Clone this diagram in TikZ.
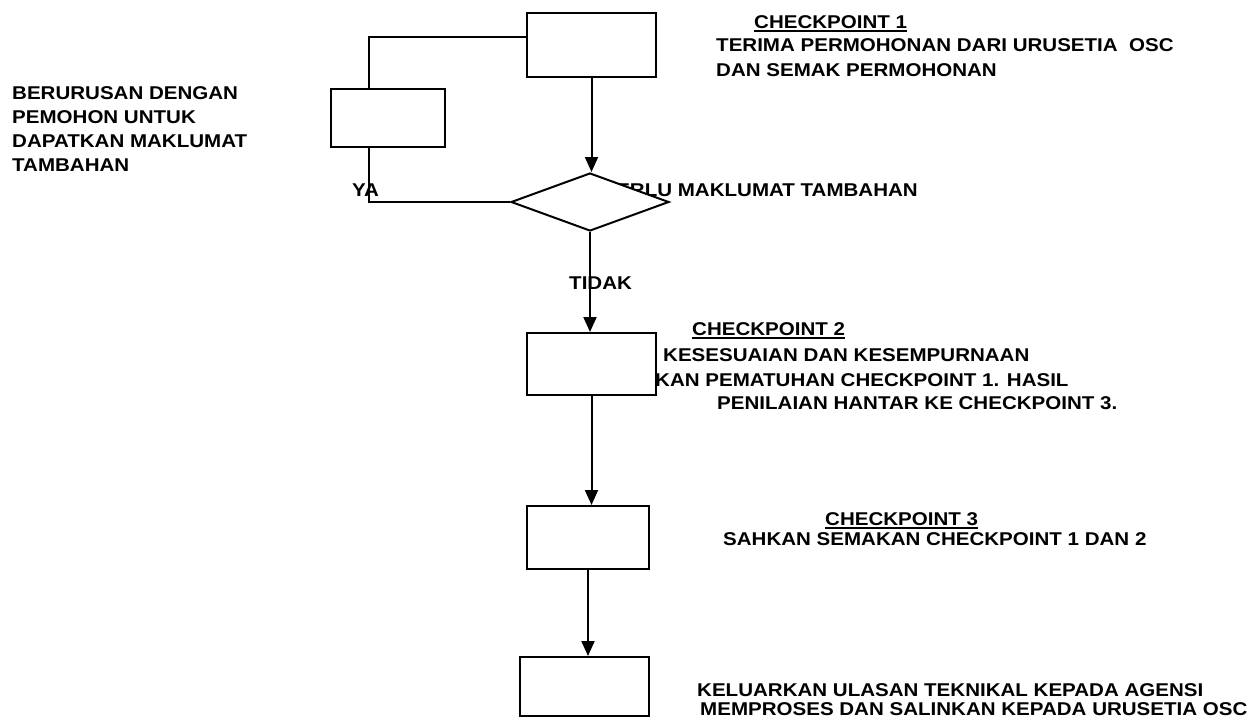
\documentclass[tikz,border=0pt]{standalone}
\usepackage{fontspec}
\usepackage{graphicx}
\setmainfont{Liberation Sans}
\usetikzlibrary{shapes.geometric,arrows.meta}
% heading with a thick rule under it
\newcommand{\ulhead}[1]{\setbox0\hbox{#1}\leavevmode\rlap{\rule[-4pt]{\wd0}{1.8pt}}\box0}
% captions are set slightly wide
\newcommand{\wtext}[1]{\scalebox{1.11}[1]{#1}}

\begin{document}
\begin{tikzpicture}[x=1pt,y=-1pt,
  lbl/.style={anchor=base west, inner sep=0pt, font=\fontsize{18.5}{22}\selectfont\bfseries},
  lblr/.style={lbl, anchor=base east},
  procbox/.style={draw, fill=white, line width=2pt, inner sep=0pt},
  decision/.style={diamond, draw, fill=white, line width=2pt, inner sep=0pt,
    minimum width=158pt, minimum height=58pt},
  link/.style={line width=2pt},
  flow/.style={link, -{Triangle[width=13pt,length=15pt]}}
]
\useasboundingbox (0,0) rectangle (1258,718);

% --- captions ---
\node[lbl] (cp1)  at (754,28) {\wtext{\ulhead{CHECKPOINT 1}}};
\node[lbl] (cp1a) at (716,51) {\wtext{TERIMA PERMOHONAN DARI URUSETIA\ \ OSC}};
\node[lbl] (cp1b) at (716,76) {\wtext{DAN SEMAK PERMOHONAN}};

\node[lbl] (ext1) at (12,99) {\wtext{BERURUSAN DENGAN}};
\node[lbl] (ext2) at (12,123) {\wtext{PEMOHON UNTUK}};
\node[lbl] (ext3) at (12,147) {\wtext{DAPATKAN MAKLUMAT}};
\node[lbl] (ext4) at (12,171) {\wtext{TAMBAHAN}};

\node[lbl]  (ya)    at (352,196) {\wtext{YA}};
\node[lblr] (perlu) at (918,196) {\wtext{PERLU MAKLUMAT TAMBAHAN}};
\node[lbl]  (tidak) at (569,289) {\wtext{TIDAK}};

\node[lbl] (cp2)  at (692,335) {\wtext{\ulhead{CHECKPOINT 2}}};
\node[lbl] (cp2a) at (663,361) {\wtext{KESESUAIAN DAN KESEMPURNAAN}};
\node[lbl] (cp2b) at (655,386) {\wtext{KAN PEMATUHAN CHECKPOINT 1. HASIL}};
\node[lbl] (cp2c) at (717,409) {\wtext{PENILAIAN HANTAR KE CHECKPOINT 3.}};

\node[lbl] (cp3)  at (825,525) {\wtext{\ulhead{CHECKPOINT 3}}};
\node[lbl] (cp3a) at (723,545) {\wtext{SAHKAN SEMAKAN CHECKPOINT 1 DAN 2}};

\node[lbl] (out1) at (697,696) {\wtext{KELUARKAN ULASAN TEKNIKAL KEPADA AGENSI}};
\node[lbl] (out2) at (700,715) {\wtext{MEMPROSES DAN SALINKAN KEPADA URUSETIA OSC}};

% --- shapes ---
\node[procbox, minimum width=129pt, minimum height=64pt] (box1)  at (591.5,45) {};
\node[procbox, minimum width=114pt, minimum height=58pt] (extra) at (388,118) {};
\node[decision] (dec) at (590,202) {};
\node[procbox, minimum width=129pt, minimum height=62pt] (box2)  at (591.5,364) {};
\node[procbox, minimum width=122pt, minimum height=63pt] (box3)  at (588,537.5) {};
\node[procbox, minimum width=129pt, minimum height=59pt] (box4)  at (584.5,686.5) {};

% --- connectors ---
\draw[flow] (box1.south) -- (box1.south |- dec.north);
\draw[flow] (dec.south) -- (dec.south |- box2.north);
\draw[flow] (box2.south) -- (box2.south |- box3.north);
\draw[flow] (box3.south) -- (box3.south |- box4.north);
\draw[link] ([yshift=8pt]box1.west) -| ([xshift=-19pt]extra.north);
\draw[link] ([xshift=-19pt]extra.south) |- (dec.west);
\end{tikzpicture}
\end{document}
